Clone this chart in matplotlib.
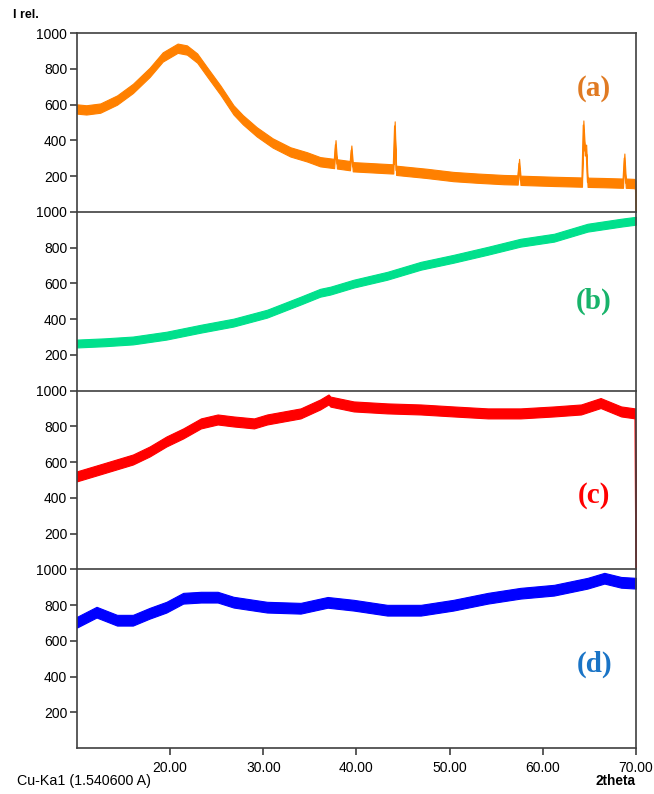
import matplotlib
matplotlib.use("Agg")
import matplotlib.pyplot as plt
import numpy as np

plt.rcParams["font.family"] = ["Liberation Sans", "DejaVu Sans"]

# pattern (a): amorphous hump with sharp reflections
two_theta_a = [10.0, 11.0, 12.5, 14.3, 16.0, 17.8, 19.2, 20.8, 21.8, 22.9, 24.0,
               25.4, 26.8, 27.8, 29.3, 31.0, 32.9, 34.7, 36.1, 37.6, 37.75, 37.9,
               39.3, 39.45, 39.6, 41.0, 43.8, 43.95, 44.1, 44.25, 45.0, 47.5,
               50.4, 53.0, 55.8, 57.3, 57.45, 57.6, 61.2, 64.2, 64.35, 64.5,
               64.65, 64.8, 66.6, 68.6, 68.75, 68.9, 69.8, 69.95, 70.0]
inten_a = [575, 570, 580, 625, 690, 780, 866, 915, 905, 860, 780,
           680, 570, 515, 447, 385, 335, 307, 280, 270, 375, 268,
           258, 345, 252, 248, 240, 240, 480, 232, 228, 215,
           197, 188, 180, 178, 270, 176, 170, 166, 485, 340, 350, 165,
           163, 160, 300, 160, 158, 150, 0]

# pattern (b)
two_theta_b = [10.0, 13.0, 16.0, 19.6, 23.3, 26.8, 30.4, 34.0, 36.1, 37.2, 39.7,
               43.3, 46.9, 50.4, 54.1, 57.6, 61.2, 64.8, 68.4, 70.0]
inten_b = [263, 270, 280, 307, 346, 380, 430, 503, 547, 559, 598,
           642, 698, 737, 782, 827, 855, 911, 939, 950]

# pattern (c)
two_theta_c = [10.0, 12.5, 16.0, 17.8, 19.6, 21.4, 23.3, 25.1, 26.8, 29.0, 30.4,
               34.0, 36.1, 37.0, 37.2, 39.7, 43.3, 46.9, 50.4, 54.1, 57.6,
               61.2, 64.1, 66.2, 68.4, 69.9, 70.0]
inten_c = [520, 559, 614, 659, 715, 760, 816, 838, 827, 816, 838,
           872, 922, 950, 938, 911, 900, 894, 883, 872, 872,
           883, 894, 930, 883, 872, 0]

# pattern (d)
two_theta_d = [10.0, 12.1, 14.3, 16.0, 17.8, 19.6, 21.4, 23.3, 25.1, 26.8, 30.4,
               34.0, 36.9, 39.7, 43.3, 46.9, 50.4, 54.1, 57.6, 61.2, 64.8,
               66.6, 68.4, 70.0]
inten_d = [704, 760, 715, 715, 754, 788, 838, 844, 844, 816, 788,
           782, 815, 799, 771, 771, 799, 838, 866, 883, 922,
           950, 927, 922]

# half width of the counting-noise band of each pattern
noise_a, noise_b, noise_c, noise_d = 26, 22, 28, 30

patterns = [
    (two_theta_a, inten_a, noise_a, "#ff8000", "(a)", "#e07a22"),
    (two_theta_b, inten_b, noise_b, "#00e08c", "(b)", "#18b36a"),
    (two_theta_c, inten_c, noise_c, "#ff0000", "(c)", "#ff0000"),
    (two_theta_d, inten_d, noise_d, "#0000ff", "(d)", "#1a74c6"),
]
label_y = [0.69, 0.50, 0.41, 0.47]

fig = plt.figure(figsize=(6.54, 7.94), dpi=100)
gs = fig.add_gridspec(4, 1, left=0.1177, right=0.9725, top=0.9584,
                      bottom=0.0579, hspace=0)
spine_col = "#404040"

axes = []
for i, (tt, inten, nz, col, lab, lab_col) in enumerate(patterns):
    ax = fig.add_subplot(gs[i, 0])
    axes.append(ax)
    tt = np.array(tt)
    inten = np.array(inten, dtype=float)
    lo = np.clip(inten - nz, 0, None)
    hi = np.clip(inten + nz, 0, None)
    # last point of (a) and (c) falls to zero at the end of the scan
    if inten[-1] == 0:
        lo[-1] = hi[-1] = 0
    ax.fill_between(tt, lo, hi, color=col, lw=0.8, edgecolor=col)
    ax.plot(tt, inten, color=col, lw=1.0)
    ax.set_xlim(10, 70)
    ax.set_ylim(0, 1000)
    ax.set_yticks([200, 400, 600, 800, 1000])
    ax.tick_params(axis="y", direction="out", length=5, width=1.2,
                   color=spine_col, labelsize=10, pad=2)
    for s in ax.spines.values():
        s.set_color(spine_col)
        s.set_linewidth(1.2)
    ax.text(0.925, label_y[i], lab, transform=ax.transAxes, ha="center",
            va="center", fontsize=21, fontweight="bold", color=lab_col,
            family=["Liberation Serif", "DejaVu Serif"])
    if i < 3:
        ax.spines["bottom"].set_visible(False)
        ax.tick_params(axis="x", bottom=False, labelbottom=False)

ax_bot = axes[-1]
ax_bot.set_xticks([20, 30, 40, 50, 60, 70])
ax_bot.set_xticklabels(["%.2f" % v for v in [20, 30, 40, 50, 60, 70]])
ax_bot.tick_params(axis="x", direction="out", length=5, width=1.2,
                   color=spine_col, labelsize=10, pad=4)

fig.text(0.020, 0.981, "I rel.", fontsize=9, fontweight="bold", va="center")
fig.text(0.026, 0.008, "Cu-Ka1 (1.540600 A)", fontsize=10.3, va="bottom")
fig.text(0.971, 0.008, "2theta", fontsize=9.8, fontweight="bold",
         va="bottom", ha="right")

fig.savefig("out.png", dpi=100)
